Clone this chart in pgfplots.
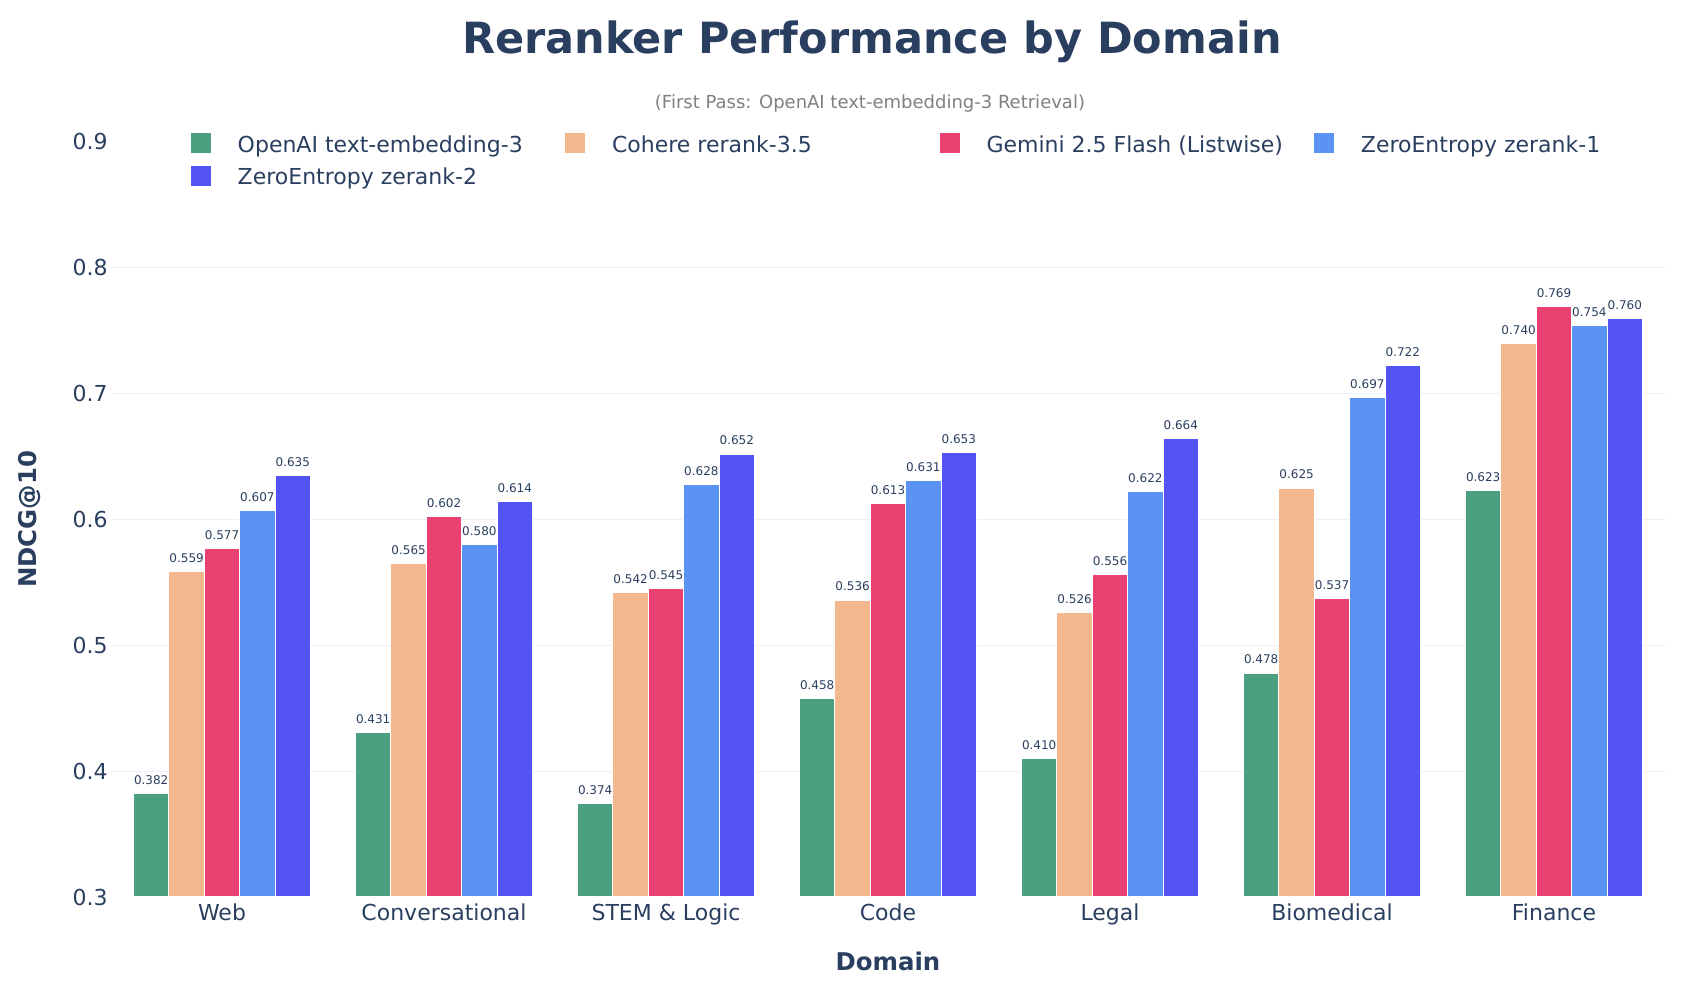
\documentclass[border=0pt]{standalone}
\usepackage{pgfplots}
\pgfplotsset{compat=1.18}
\usepackage{pgfplotstable}
\usepackage{fontspec}
\setmainfont{DejaVu Sans}

\definecolor{txt}{HTML}{2A3F5F}
\definecolor{gridc}{HTML}{EBF0F8}
\definecolor{cA}{HTML}{4C9F7F}
\definecolor{cB}{HTML}{F3B88D}
\definecolor{cC}{HTML}{E94172}
\definecolor{cD}{HTML}{5B93F5}
\definecolor{cE}{HTML}{5453F5}

% NDCG@10 per domain (0 Web ... 6 Finance)
\pgfplotstableread{
x openai cohere gemini zeone zetwo
0 0.382 0.559 0.577 0.607 0.635
1 0.431 0.565 0.602 0.580 0.614
2 0.374 0.542 0.545 0.628 0.652
3 0.458 0.536 0.613 0.631 0.653
4 0.410 0.526 0.556 0.622 0.664
5 0.478 0.625 0.537 0.697 0.722
6 0.623 0.740 0.769 0.754 0.760
}\domains

\newcommand{\legtext}[1]{\makebox[163.3pt][l]{\vphantom{(Ay}#1}}

\begin{document}
\begin{tikzpicture}
\useasboundingbox (-55.5pt,-51.5pt) rectangle (787.5pt,448.5pt);
\begin{axis}[
  at={(0pt,0pt)}, anchor=south west,
  scale only axis, width=777pt, height=377.5pt,
  clip mode=individual,
  ybar=0pt, bar width=17.7pt,
  xmin=-0.5, xmax=6.5, ymin=0.3, ymax=0.9,
  axis line style={draw=none},
  tick style={draw=none}, major tick length=0pt,
  xtick={0,1,2,3,4,5,6},
  xticklabels={Web,Conversational,STEM \& Logic,Code,Legal,Biomedical,Finance},
  ytick={0.3,0.4,0.5,0.6,0.7,0.8,0.9},
  extra y ticks={0.4,0.5,0.6,0.7,0.8},
  extra y tick labels={},
  extra y tick style={grid=major, major grid style={draw=gridc, line width=0.5pt}},
  /pgf/number format/assume math mode=true,
  yticklabel style={/pgf/number format/fixed, /pgf/number format/precision=1,
    /pgf/number format/fixed zerofill,
    anchor=east, inner sep=0pt, xshift=-1.5pt,
    font=\fontsize{11}{13}\selectfont, text=txt},
  xticklabel style={anchor=base, inner sep=0pt, yshift=-12pt,
    font=\fontsize{11}{13}\selectfont, text=txt},
  every axis title shift=0pt,
  title={Reranker Performance by Domain},
  title style={at={(axis description cs:0.4897,1.1174)}, anchor=base,
    inner sep=0pt, font=\bfseries\fontsize{21.5}{25}\selectfont, text=txt},
  xlabel={Domain},
  xlabel style={at={(axis description cs:0.5,-0.0967)}, anchor=base,
    inner sep=0pt, font=\bfseries\fontsize{12.2}{14}\selectfont, text=txt},
  ylabel={NDCG@10},
  ylabel style={at={(axis description cs:-0.0521,0.5)}, anchor=center,
    inner sep=0pt, font=\bfseries\fontsize{12.2}{14}\selectfont, text=txt},
  nodes near coords,
  every node near coord/.append style={font=\fontsize{6}{7}\selectfont,
    text=txt, inner sep=0pt, anchor=south, yshift=4.2pt,
    /pgf/number format/fixed, /pgf/number format/precision=3,
    /pgf/number format/fixed zerofill},
  legend cell align=left,
  legend columns=4,
  legend style={at={(axis description cs:0.0508,1.0132)}, anchor=north west,
    draw=none, fill=none, inner sep=0pt, outer sep=0pt,
    row sep=4.8pt, column sep=0pt,
    nodes={inner sep=0pt, font=\fontsize{11}{13}\selectfont, text=txt},
    /tikz/every odd column/.append style={column sep=13pt}},
  barleg/.style={legend image code/.code={
    \draw[##1, line width=0.4pt] (0pt,-4.12pt) rectangle (10.5pt,6.38pt);}},
  every axis plot/.append style={draw=white, line width=0.5pt},
]
\addplot[fill=cA, barleg] table[x=x, y=openai] {\domains};
\addlegendentry{\legtext{OpenAI text-embedding-3}}
\addplot[fill=cB, barleg] table[x=x, y=cohere] {\domains};
\addlegendentry{\legtext{Cohere rerank-3.5}}
\addplot[fill=cC, barleg] table[x=x, y=gemini] {\domains};
\addlegendentry{\legtext{Gemini 2.5 Flash (Listwise)}}
\addplot[fill=cD, barleg] table[x=x, y=zeone] {\domains};
\addlegendentry{\legtext{ZeroEntropy zerank-1}}
\addplot[fill=cE, barleg] table[x=x, y=zetwo] {\domains};
\addlegendentry{\legtext{ZeroEntropy zerank-2}}
\node[anchor=base, inner sep=0pt, text=gray, font=\fontsize{9}{11}\selectfont]
  at (axis description cs:0.4884,1.0450) {(First Pass: OpenAI text-embedding-3 Retrieval)};
\end{axis}
\end{tikzpicture}
\end{document}
